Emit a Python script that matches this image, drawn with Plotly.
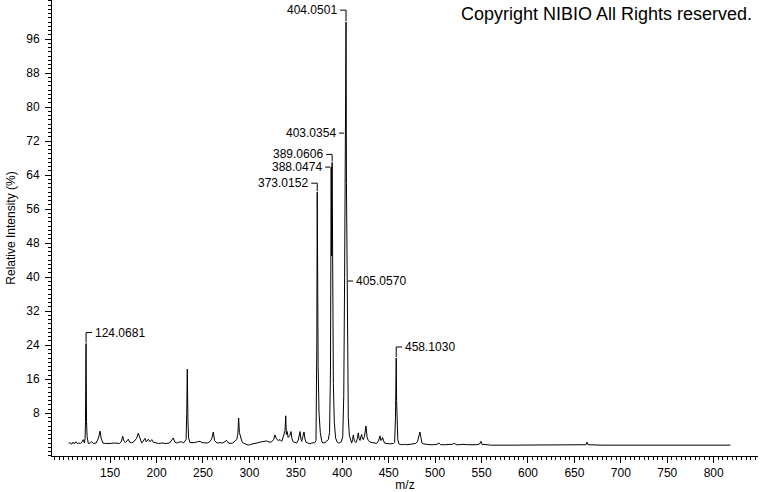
import plotly.graph_objects as go

# ---------------- data ----------------
mz = [
    105.5, 107, 108.5, 110, 111.5, 113, 114.5, 116, 118, 119.5, 121.1, 122.3, 123.0, 123.5, 123.8,
    124.0681, 124.3, 124.6, 125.2, 126.5, 128.5, 130.1, 132, 135, 137.5, 139.1, 140.5, 142.3, 145,
    150, 155, 160, 162, 163.5, 165, 166.5, 168, 169.6, 171, 173.2, 175, 178.5, 180.3, 182, 184,
    185.5, 187.5, 189, 191.1, 193, 194.8, 196.5, 198.3, 202, 206, 210, 214, 216.5, 218, 219.8,
    221.7, 224, 227.1, 229, 230.6, 231.8, 232.5, 232.8, 233.1, 233.4, 233.8, 234.5, 236, 238,
    241, 244, 246.8, 249, 252.1, 255, 258, 259.4, 261.1, 262.5, 264, 266, 268.3, 271, 273.5,
    275.5, 277, 279.1, 282, 284.5, 286.3, 287.5, 288.4, 289.2, 290.6, 292, 293.4, 296, 298.8,
    301.5, 304.2, 308, 311.4, 315, 318.6, 321, 324.0, 326, 327.5, 329, 331.1, 333, 334.8, 336.2,
    337.2, 338.4, 339.1, 339.8, 340.8, 341.7, 342.6, 343.6, 344.8, 345.8, 347.2, 349, 350.9,
    352.5, 353.5, 354.5, 355.4, 356.3, 357.5, 358.8, 359.8, 360.9, 363, 365.2, 367, 368.8, 370.5,
    371.7, 372.6, 373.0152, 373.4, 374, 375, 376.3, 377.8, 379, 381.4, 383, 385, 386.3, 387.3,
    388.0474, 388.5, 389.0606, 389.6, 390.4, 391.4, 392.8, 394.6, 396, 397.5, 399, 400.5, 401.6,
    402.5, 403.0354, 403.5, 404.0501, 404.5, 405.0570, 405.6, 406.5, 407.6, 409, 410.1, 411.1,
    411.9, 413, 414.8, 416.2, 417.2, 418.2, 419.1, 420.2, 420.9, 421.8, 422.6, 424, 425.5, 426.7,
    428, 430, 431.7, 434, 437.1, 439, 440.6, 441.5, 442.4, 443.3, 444.2, 445.5, 447.1, 451, 454.9,
    456.4, 457.3, 457.7, 458.1030, 458.5, 459.0, 459.8, 461, 464, 467, 469.4, 473, 476.5, 479,
    481, 482.5, 483.6, 484.6, 485.8, 487.2, 491, 494.4, 498, 502, 504, 506, 510, 515, 518, 521,
    523, 526, 530, 535, 540, 545, 548, 549.3, 550.5, 555, 560, 580, 600, 620, 640, 660, 662.5,
    663.5, 664.7, 680, 700, 720, 740, 760, 780, 800, 818,
]
intensity = [
    0.9, 1.1, 0.7, 1.2, 0.8, 1.3, 0.9, 1.0, 0.9, 1.2, 1.8, 1.0, 2.0, 6.0, 18.0,
    24.4, 16.0, 6.0, 2.5, 0.9, 1.0, 1.3, 0.9, 1.0, 2.2, 3.8, 2.0, 1.0, 0.9,
    0.9, 1.0, 0.9, 1.3, 2.6, 1.4, 1.1, 1.4, 1.9, 1.2, 1.1, 1.2, 2.1, 3.3, 2.0, 1.0,
    1.4, 2.1, 1.3, 1.9, 1.3, 1.8, 1.2, 1.1, 0.9, 1.0, 0.9, 1.0, 1.6, 2.2, 1.2,
    1.0, 1.2, 1.3, 1.0, 1.4, 1.8, 8.0, 14.0, 18.4, 13.0, 6.0, 2.2, 1.1, 1.1,
    1.1, 1.3, 1.4, 1.1, 1.0, 1.0, 1.5, 2.0, 3.6, 1.6, 1.2, 1.0, 1.1, 1.0, 1.3,
    1.6, 1.1, 0.9, 1.0, 1.5, 1.8, 3.0, 6.9, 3.5, 2.2, 1.3, 1.0, 0.7, 0.5,
    0.7, 0.9, 1.0, 1.2, 1.3, 1.5, 1.2, 1.3, 1.8, 2.9, 2.0, 1.6, 1.8, 1.4, 2.3,
    2.9, 4.0, 7.4, 3.0, 3.7, 2.3, 2.5, 2.8, 3.7, 2.0, 1.3, 1.1, 1.0,
    1.6, 2.5, 3.7, 2.0, 1.4, 2.5, 3.6, 2.0, 1.2, 1.0, 0.8, 1.0, 1.0, 1.1,
    1.6, 25.0, 60.0, 39.0, 19.0, 8.0, 3.5, 1.5, 1.0, 1.1, 1.4, 1.8, 3.5, 18.0,
    65.9, 45.0, 67.0, 38.0, 15.0, 6.0, 2.2, 1.2, 1.0, 1.1, 1.3, 2.5, 12.0,
    40.0, 73.9, 60.0, 100.0, 62.0, 39.1, 18.0, 7.0, 2.8, 1.3, 1.0, 1.8,
    2.9, 1.5, 1.1, 2.0, 3.4, 2.0, 1.6, 2.6, 3.0, 2.0, 1.8, 2.6, 5.0, 2.4,
    1.6, 1.2, 1.1, 1.0, 0.9, 1.5, 2.7, 1.6, 1.7, 2.3, 1.9, 1.0, 0.9, 0.8, 0.9,
    1.2, 7.0, 11.0, 21.0, 11.0, 5.0, 1.8, 0.8, 0.6, 0.7, 0.6, 0.7, 0.8, 0.9,
    1.3, 2.4, 3.6, 2.4, 1.0, 0.8, 0.6, 0.6, 0.6, 0.7, 1.0, 0.6, 0.6, 0.6, 0.7, 0.9,
    0.6, 0.6, 0.7, 0.6, 0.6, 0.6, 0.8, 1.4, 0.7, 0.6, 0.5, 0.5, 0.5, 0.5, 0.5, 0.5, 0.6,
    1.2, 0.6, 0.5, 0.5, 0.5, 0.5, 0.5, 0.5, 0.5, 0.5,
]

label_mz = [124.0681, 373.0152, 388.0474, 389.0606, 403.0354, 404.0501, 405.0570, 458.1030]
label_side = ["right", "left", "left", "left", "left", "left", "right", "right"]
label_riser = [11, 9, 0, 8, 0, 12, 0, 11]   # px height of the bracket above the apex

x_tick_vals = list(range(150, 801, 50))
y_tick_vals = list(range(8, 97, 8))

# ---------------- figure ----------------
FONT = "Arial, 'Liberation Sans', sans-serif"

fig = go.Figure()
fig.add_trace(go.Scatter(
    x=mz, y=intensity, mode="lines",
    line=dict(color="black", width=1),
    hoverinfo="skip",
))

shapes = []
annotations = []
for m, side, riser in zip(label_mz, label_side, label_riser):
    peak = intensity[mz.index(m)]
    s = -1 if side == "left" else 1
    if riser > 0:
        path = f"M0,1 L0,{riser} L{s * 6},{riser}"
    else:
        path = f"M{s * 1},0 L{s * 6},0"
    shapes.append(dict(
        type="path", xref="x", yref="y",
        xsizemode="pixel", ysizemode="pixel",
        xanchor=m, yanchor=peak, path=path,
        line=dict(color="black", width=1),
    ))
    annotations.append(dict(
        x=m, y=peak, xref="x", yref="y", text=f"{m:.4f}",
        showarrow=False, xanchor="right" if side == "left" else "left",
        yanchor="middle", xshift=s * 7, yshift=riser,
        font=dict(family=FONT, size=12, color="black"),
    ))

annotations.append(dict(
    x=1, y=1, xref="paper", yref="paper", text="Copyright NIBIO All Rights reserved.",
    showarrow=False, xanchor="right", yanchor="top", xshift=-4, yshift=-2,
    font=dict(family=FONT, size=18, color="black"),
))

fig.update_layout(
    width=760, height=492,
    margin=dict(l=52, r=2, t=0, b=36),
    plot_bgcolor="white", paper_bgcolor="white",
    showlegend=False,
    font=dict(family=FONT, size=12, color="black"),
    shapes=shapes, annotations=annotations,
    xaxis=dict(
        range=[87.4, 847.7], showgrid=False, zeroline=False, automargin=False,
        showline=True, linecolor="black", linewidth=1,
        ticks="outside", ticklen=6, tickwidth=1, tickcolor="black",
        tickmode="array", tickvals=x_tick_vals,
        minor=dict(dtick=5, tick0=0, ticks="outside", ticklen=3, tickcolor="black", showgrid=False),
        title=dict(text="m/z", standoff=2, font=dict(size=12)),
    ),
    yaxis=dict(
        range=[-2.05, 105.2], showgrid=False, zeroline=False, automargin=False,
        showline=True, linecolor="black", linewidth=1,
        ticks="outside", ticklen=6, tickwidth=1, tickcolor="black",
        tickmode="array", tickvals=y_tick_vals, ticklabelstandoff=3,
        minor=dict(dtick=1, tick0=0, ticks="outside", ticklen=3, tickcolor="black", showgrid=False),
        title=dict(text="Relative Intensity (%)", standoff=8, font=dict(size=12)),
    ),
)

fig.write_html(
    "out.html",
    config={"displayModeBar": False},
    post_script="document.body.style.margin='0';document.body.style.overflow='hidden';",
)
